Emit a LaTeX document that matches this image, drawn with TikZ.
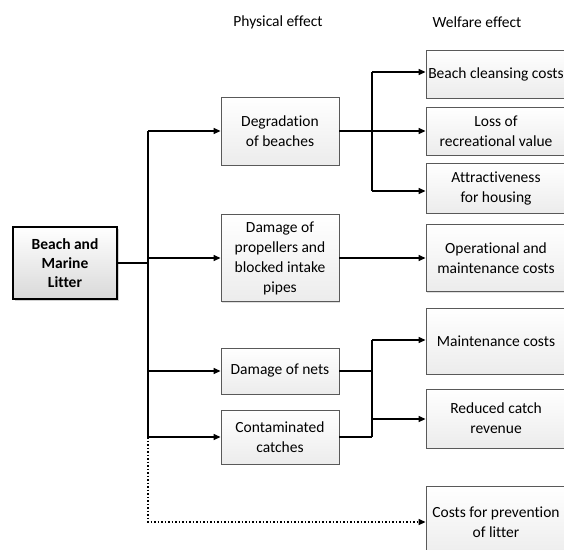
\documentclass[tikz,border=0pt]{standalone}
\usepackage{fontspec}
\setmainfont[Ligatures=NoCommon]{Carlito}
\usetikzlibrary{arrows.meta,shadows}
\begin{document}
\begin{tikzpicture}[x=1pt,y=-1pt,
  font=\fontsize{15.5}{20}\selectfont,
  pbox/.style={draw=gray!70!black, line width=0.9pt, top color=white, bottom color=gray!15,
     align=center, inner sep=1pt, drop shadow={shadow xshift=1pt,shadow yshift=-1pt,opacity=0.25}},
  mainbox/.style={draw=black, line width=1.8pt, top color=white, bottom color=gray!30,
     align=center, inner sep=2pt, font=\fontsize{15.5}{19}\selectfont\bfseries,
     drop shadow={shadow xshift=1.5pt,shadow yshift=-1.5pt,opacity=0.35}},
  conn/.style={line width=1.5pt, black},
  arr/.style={conn, -{Triangle[length=7pt,width=6pt]}},
  hdr/.style={font=\fontsize{15.5}{20}\selectfont}
]
\useasboundingbox (0,0) rectangle (564,549);
\fill[white] (0,0) rectangle (564,549);

% headers
\node[hdr] (hphys) at (278,22) {Physical effect};
\node[hdr] (hwelf) at (477,22) {Welfare effect};

% main box
\node[mainbox, minimum width=104pt, minimum height=72pt] (lit) at (65,263) {Beach and\\Marine\\Litter};

% physical effect boxes
\node[pbox, minimum width=118pt, minimum height=68pt] (deg) at (280,131) {Degradation\\of beaches};
\node[pbox, minimum width=118pt, minimum height=87pt] (prop) at (280,258) {Damage of\\propellers and\\blocked intake\\pipes};
\node[pbox, minimum width=118pt, minimum height=46pt] (nets) at (280,371) {Damage of nets};
\node[pbox, minimum width=118pt, minimum height=54pt] (cont) at (280,437) {Contaminated\\catches};

% welfare boxes
\node[pbox, minimum width=140pt, minimum height=48pt] (w1) at (496,74) {Beach cleansing costs};
\node[pbox, minimum width=140pt, minimum height=48pt] (w2) at (496,131) {Loss of\\recreational value};
\node[pbox, minimum width=140pt, minimum height=50pt] (w3) at (496,188) {Attractiveness\\for housing};
\node[pbox, minimum width=140pt, minimum height=67pt] (w4) at (496,258) {Operational and\\maintenance costs};
\node[pbox, minimum width=140pt, minimum height=66pt] (w5) at (496,341) {Maintenance costs};
\node[pbox, minimum width=140pt, minimum height=59pt] (w6) at (496,418.5) {Reduced catch\\revenue};
\node[pbox, minimum width=140pt, minimum height=72pt] (w7) at (496,522) {Costs for prevention\\of litter};

% trunk coordinates
\coordinate (tm) at (148,263);
\coordinate (t1) at (148,131);
\coordinate (t4) at (148,437);
\coordinate (t5) at (148,522);

\draw[conn] (lit.east) -- (tm);
\draw[conn] (t1) -- (t4);
\draw[arr] (t1) -- (deg.west);
\draw[arr] (prop.west -| tm) -- (prop.west);
\draw[arr] (nets.west -| tm) -- (nets.west);
\draw[arr] (t4) -- (cont.west);
\draw[conn, dotted, -{Triangle[length=7pt,width=6pt]}] (t4) -- (t5) -- (w7.west);

% degradation branch
\coordinate (b1) at (372,72);
\coordinate (b3) at (372,191);
\draw[conn] (b1) -- (b3);
\draw[arr] (deg.east) -- (w2.west);
\draw[arr] (b1) -- (b1 -| w1.west);
\draw[arr] (b3) -- (b3 -| w3.west);

% propellers
\draw[arr] (prop.east) -- (w4.west);

% nets / catches branch
\coordinate (c1) at (372,340);
\coordinate (c2) at (372,419);
\coordinate (c3) at (372,437);
\draw[conn] (nets.east) -- (nets.east -| c1);
\draw[conn] (cont.east) -- (c3);
\draw[conn] (c1) -- (c3);
\draw[arr] (c1) -- (c1 -| w5.west);
\draw[arr] (c2) -- (c2 -| w6.west);
\end{tikzpicture}
\end{document}
